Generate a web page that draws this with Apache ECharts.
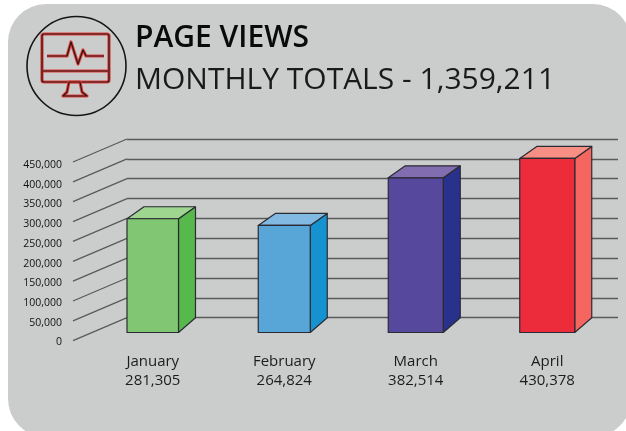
<!DOCTYPE html>
<html>
<head>
<meta charset="utf-8">
<style>
html, body { margin: 0; padding: 0; background: #fff; }
#main { width: 626px; height: 431px; }
</style>
<script src="https://cdn.jsdelivr.net/npm/echarts@6/dist/echarts.min.js"></script>
</head>
<body>
<div id="main"></div>
<script>
var months = ['January', 'February', 'March', 'April'];
var views = [281305, 264824, 382514, 430378];
var yTicks = [0, 50000, 100000, 150000, 200000, 250000, 300000, 350000, 400000, 450000];
var frontColors = ['#81c773', '#58a5d8', '#56489c', '#ec2b3b'];
var sideColors = ['#57b84c', '#1592d0', '#28318b', '#f4665f'];
var topColors = ['#9ed58f', '#82b9e2', '#816db0', '#f88f84'];

var FONT = '"Open Sans", "Noto Sans", sans-serif';
var DEPTH_X = 17, DEPTH_BOTTOM = 14.7, DEPTH_TOP = 12;   // bar depth
var WALL_X = 54, WALL_Y = 23;                            // side wall slant

function fmt(n) {
  return String(n).replace(/\B(?=(\d{3})+$)/g, ',');
}

// front face + side + top
function renderBar(params, api) {
  var i = api.value(0);
  var c = api.coord([i, api.value(1)]);
  var b = api.coord([i, 0]);
  var w = [51.5, 52, 55, 55][i] / 2;
  var l = c[0] - w, r = c[0] + w, t = c[1], y0 = b[1];
  var line = { stroke: '#2b2b33', lineWidth: 1.2, lineJoin: 'round' };
  function poly(points, fill) {
    return { type: 'polygon', shape: { points: points }, style: Object.assign({ fill: fill }, line) };
  }
  return {
    type: 'group',
    children: [
      poly([[r, y0], [r + DEPTH_X, y0 - DEPTH_BOTTOM], [r + DEPTH_X, t - DEPTH_TOP], [r, t]], sideColors[i]),
      poly([[l, t], [l + DEPTH_X, t - DEPTH_TOP], [r + DEPTH_X, t - DEPTH_TOP], [r, t]], topColors[i]),
      poly([[l, t], [r, t], [r, y0], [l, y0]], frontColors[i])
    ]
  };
}

// slanted part of each grid line, going from the back wall to the front
function renderSlant(params, api) {
  var p = api.coord([0, api.value(0)]);
  return {
    type: 'line',
    shape: { x1: p[0], y1: p[1], x2: p[0] - WALL_X, y2: p[1] + WALL_Y },
    style: { stroke: '#5a5a5a', lineWidth: 1.3 }
  };
}

// icon lines are dark with a red edge, so every shape goes in twice
function iconShape(type, shape) {
  return [
    { type: type, shape: shape, style: { fill: 'none', stroke: '#e0413c', lineWidth: 3.2, lineJoin: 'round' } },
    { type: type, shape: shape, style: { fill: 'none', stroke: '#2a1616', lineWidth: 1.2, lineJoin: 'round' } }
  ];
}

var icon = [].concat(
  iconShape('rect', { x: 42, y: 34, width: 67, height: 48, r: 2 }),
  iconShape('line', { x1: 43, y1: 71, x2: 108, y2: 71 }),
  iconShape('polygon', { points: [[69, 82], [80, 82], [82, 92], [87, 96], [63, 96], [67, 92]] }),
  iconShape('polyline', { points: [[47, 56], [67, 56], [71, 42], [78, 64], [83, 50], [86, 56], [104, 56]] })
);

var chart = echarts.init(document.getElementById('main'));
var option = {
  animation: false,
  backgroundColor: '#fff',
  graphic: [
    { type: 'rect', z: -10, shape: { x: 8, y: 4, width: 623, height: 433, r: 38 }, style: { fill: '#cbcdcc' } },
    { type: 'circle', shape: { cx: 76.5, cy: 66, r: 49.5 }, style: { fill: 'none', stroke: '#151515', lineWidth: 1.6 } }
  ].concat(icon, [
    { type: 'text', x: 135, y: 23, style: { text: 'PAGE VIEWS', font: '600 30px ' + FONT, fill: '#0a0a0a' } },
    { type: 'text', x: 135, y: 65, style: { text: 'MONTHLY TOTALS - 1,359,211', font: '400 30px ' + FONT, fill: '#1a1a1a' } }
  ]),
  grid: [
    { left: 127, top: 139, width: 491, height: 178.7 },   // back wall
    { left: 73, top: 165, width: 10, height: 177.5 },     // front edge, holds the tick labels
    { left: 87, top: 150.5, width: 526, height: 182 }     // bars and month labels
  ],
  xAxis: [
    { gridIndex: 0, type: 'value', min: 0, max: 1, show: false },
    { gridIndex: 1, type: 'value', min: 0, max: 1, show: false },
    {
      gridIndex: 2,
      type: 'category',
      data: months,
      axisLine: { show: false },
      axisTick: { show: false },
      axisLabel: {
        margin: 20,
        lineHeight: 19,
        fontFamily: FONT,
        fontSize: 15,
        color: '#1c1c1c',
        formatter: function (v, i) { return v + '\n' + fmt(views[i]); }
      }
    }
  ],
  yAxis: [
    {
      gridIndex: 0,
      type: 'value',
      min: 0,
      max: 450000,
      interval: 50000,
      axisLine: { show: false },
      axisTick: { show: false },
      axisLabel: { show: false },
      splitLine: { lineStyle: { color: '#5a5a5a', width: 1.3 } }
    },
    {
      gridIndex: 1,
      type: 'value',
      min: 0,
      max: 450000,
      interval: 50000,
      axisLine: { show: false },
      axisTick: { show: false },
      splitLine: { show: false },
      axisLabel: {
        margin: 11,
        fontFamily: FONT,
        fontSize: 10.5,
        color: '#111',
        formatter: function (v) { return fmt(v); }
      }
    },
    { gridIndex: 2, type: 'value', min: 0, max: 450000, show: false }
  ],
  series: [
    {
      type: 'custom',
      xAxisIndex: 0,
      yAxisIndex: 0,
      data: yTicks.map(function (v) { return [v]; }),
      encode: { y: 0 },
      renderItem: renderSlant,
      silent: true
    },
    {
      type: 'custom',
      xAxisIndex: 2,
      yAxisIndex: 2,
      data: views.map(function (v, i) { return [i, v]; }),
      encode: { x: 0, y: 1 },
      renderItem: renderBar,
      z: 5
    }
  ]
};
chart.setOption(option);
</script>
</body>
</html>
